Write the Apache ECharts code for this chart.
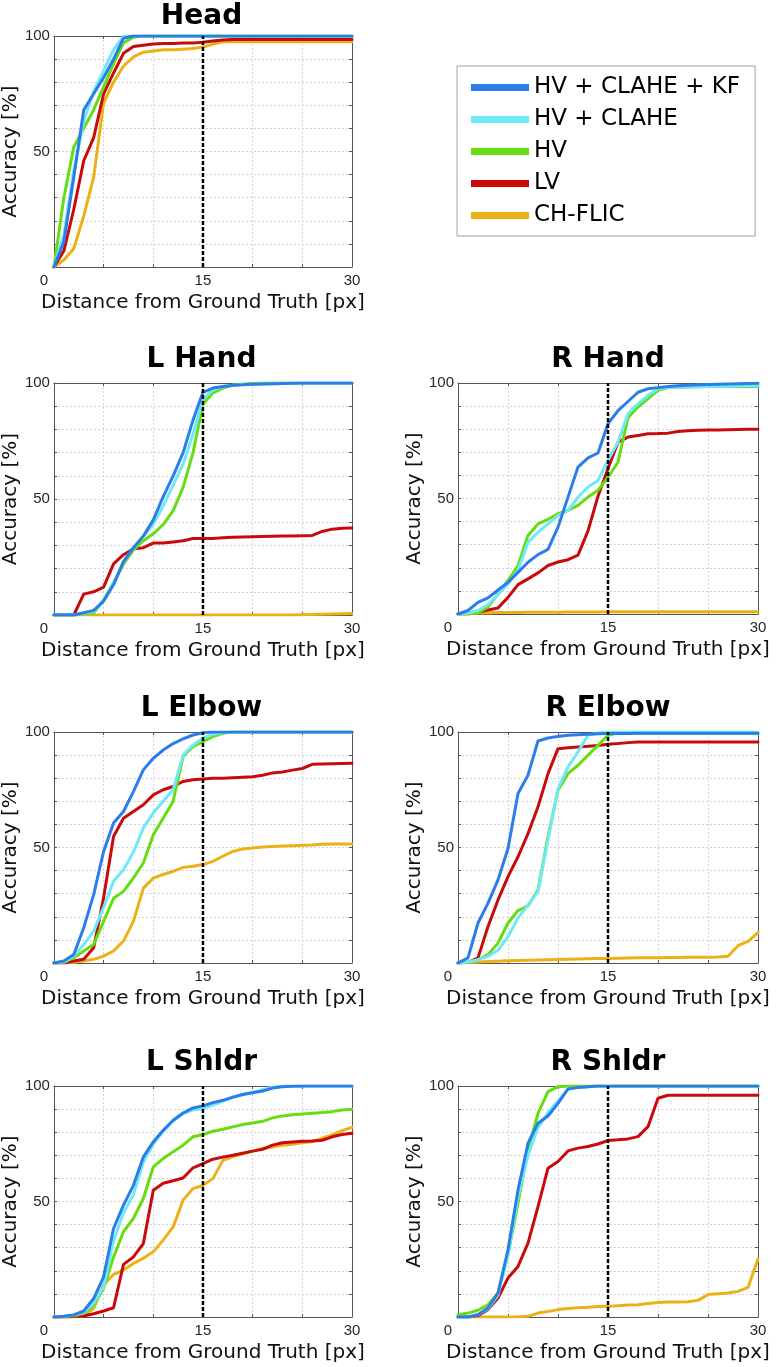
<!DOCTYPE html>
<html><head><meta charset="utf-8">
<script src="https://cdn.jsdelivr.net/npm/echarts/dist/echarts.min.js"></script>
<style>html,body{margin:0;padding:0;background:#fff}#c{width:776px;height:1367px}</style>
</head><body><div id="c"></div><script>
const SERIES_NAMES = ['HV + CLAHE + KF', 'HV + CLAHE', 'HV', 'LV', 'CH-FLIC'];
const PANEL_TITLES = ['Head', 'L Hand', 'R Hand', 'L Elbow', 'R Elbow', 'L Shldr', 'R Shldr'];
const X_TICK_LABELS = [0, 15, 30];
const Y_TICK_LABELS = [50, 100];
const THRESHOLD = 15;
const X_NAME = 'Distance from Ground Truth [px]';
const Y_NAME = 'Accuracy [%]';
const DIST = [0,1,2,3,4,5,6,7,8,9,10,11,12,13,14,15,16,17,18,19,20,21,22,23,24,25,26,27,28,29,30];

// Head
const HEAD_KF    = [0,11,39,68,75,82,90,99,100,100,100,100,100,100,100,100,100,100,100,100,100,100,100,100,100,100,100,100,100,100,100];
const HEAD_CLAHE = [0,14,42,63,76,85,94,100,100,100,100,100,100,100,100,100,100,100,100,100,100,100,100,100,100,100,100,100,100,100,100];
const HEAD_HV    = [0,30,52,60,68,78,88,97,99.5,100,100,100,100,100,100,100,100,100,100,100,100,100,100,100,100,100,100,100,100,100,100];
const HEAD_LV    = [0,7,25,46,56,75,84,92.5,95.5,96,96.5,96.7,96.8,97,97,97.3,97.8,98.3,98.5,98.5,98.5,98.5,98.5,98.5,98.5,98.5,98.5,98.5,98.5,98.5,98.5];
const HEAD_FLIC  = [0,3,8,22,39,71,80,87,91,93,93.5,94,94,94.3,94.6,95.2,96.5,97.5,97.5,97.5,97.5,97.5,97.5,97.5,97.5,97.5,97.5,97.5,97.5,97.5,97.5];
// L Hand
const LHAND_KF    = [0,0,0,1,2,6,13,23,29,34,41,51,60,70,84,96,97.8,98.5,99,99.2,99.5,99.6,99.7,99.8,99.9,100,100,100,100,100,100];
const LHAND_CLAHE = [0,0,0,0.7,1.5,6,13.5,23,29,34,39,47,56,65,78,93,97,98.5,99,99.3,99.5,99.6,99.7,99.8,99.9,100,100,100,100,100,100];
const LHAND_HV    = [0,0,0,0.5,0.8,6.5,14,22,28,32,35,39,45,55,70,91,95.7,97.8,99,99.5,99.8,100,100,100,100,100,100,100,100,100,100];
const LHAND_LV    = [0,0,0,9,10,12,22,26,28.5,29,31,31,31.5,32,33,33,33,33.3,33.5,33.6,33.7,33.8,33.9,34,34,34.2,34.3,36,37,37.4,37.5];
const LHAND_FLIC  = [0,0,0,0,0,0,0,0,0,0,0,0,0,0,0,0,0,0,0,0,0,0,0,0,0,0.1,0.2,0.3,0.4,0.5,0.6];
// R Hand
const RHAND_KF    = [0,1.5,5,7,10.4,13.7,18,22.4,25.7,28,37.6,50.6,63.6,67.6,69.7,82.4,88,92,96,97.5,98,98.5,98.8,99,99.2,99.4,99.5,99.6,99.7,99.8,99.9];
const RHAND_CLAHE = [0,0.5,1.5,4,8.4,13,19,31,35.4,39,42.6,44.8,50.6,55,57.8,66.5,74.4,86.7,91,94.7,97.5,98,98.2,98.3,98.4,98.5,98.5,98.6,98.7,98.8,98.8];
const RHAND_HV    = [0,0,0.5,3,8.7,14.5,21,34,39,41,43.4,44.8,47,50.6,53.5,59.2,65.7,85,89.6,93.2,96.8,98,98.2,98.3,98.4,98.5,98.5,98.5,98.5,98.5,98.5];
const RHAND_LV    = [0,0,0.7,1.7,2.6,7.2,12.7,15.2,17.8,21,22.5,23.5,25.5,36,51,63,74.4,76.6,77.3,78,78.1,78.3,79,79.3,79.5,79.6,79.7,79.8,79.9,80,80];
const RHAND_FLIC  = [0,0.2,0.4,0.5,0.6,0.7,0.7,0.8,0.8,0.8,0.8,0.9,0.9,0.9,0.9,1,1,1,1,1,1,1,1,1,1,1,1,1,1,1,1];
// L Elbow
const LELB_KF    = [0,0.9,3.7,15.3,29.6,48.3,60.6,65.6,74.2,83.6,88.6,92.2,95,97,98.7,99.7,100,100,100,100,100,100,100,100,100,100,100,100,100,100,100];
const LELB_CLAHE = [0,0.5,3,8,13.8,24,35.4,40.4,48,58.4,65,70,75,90,94.4,97.3,99,99.8,100,100,100,100,100,100,100,100,100,100,100,100,100];
const LELB_HV    = [0,0.3,2.3,5.2,8,18,28,31,36.8,43.3,55.5,62.7,70,89.4,93.7,95.8,98,99.4,100,100,100,100,100,100,100,100,100,100,100,100,100];
const LELB_LV    = [0,0,0.9,1.6,6.6,28.2,54.8,62.7,65.6,68.5,72.8,75,76.4,78.6,79.3,79.7,80,80,80.2,80.4,80.6,81.3,82.3,82.7,83.5,84.2,86,86.2,86.3,86.4,86.5];
const LELB_FLIC  = [0,0,0.3,0.9,1.6,3,5.2,9.5,18,32.4,36.8,38.3,39.7,41.4,41.9,42.6,44,46.2,48.3,49.4,49.8,50.2,50.4,50.6,50.8,51,51.1,51.4,51.5,51.5,51.5];
// R Elbow
const RELB_KF    = [0,2.2,17.3,25.9,36,49.6,73.4,81.3,96.1,97.4,98.1,98.6,98.8,99,99.2,99.3,99.4,99.4,99.5,99.5,99.5,99.5,99.5,99.5,99.5,99.5,99.5,99.5,99.5,99.5,99.5];
const RELB_CLAHE = [0,0.4,1.4,2.9,5.5,11.5,19.4,25.2,31,53.2,75.5,84.9,91.4,98.6,99.6,100,100,100,100,100,100,100,100,100,100,100,100,100,100,100,100];
const RELB_HV    = [0,0.3,1.4,3.6,8.6,17.3,22.7,24.7,31.7,54.7,74.8,82,85.6,90,94.2,98.6,99.5,99.5,99.5,99.5,99.5,99.5,99.5,99.5,99.5,99.5,99.5,99.5,99.5,99.5,99.5];
const RELB_LV    = [0,0.3,2.2,15.8,27.3,37.4,46,56,67.6,82,92.8,93.2,93.5,93.8,94.2,94.7,95,95.4,95.7,95.7,95.7,95.7,95.7,95.7,95.7,95.7,95.7,95.7,95.7,95.7,95.7];
const RELB_FLIC  = [0,0.2,0.4,0.6,0.8,1,1.1,1.2,1.3,1.4,1.5,1.6,1.7,1.8,1.9,2,2.1,2.2,2.3,2.3,2.3,2.4,2.4,2.5,2.5,2.5,2.6,2.9,7.5,9.4,13.2];
// L Shldr
const LSH_KF    = [0,0.3,0.9,2.6,8,17.4,38.3,48.4,57,69.3,75.8,80.8,85.2,88.3,90.5,91.4,92.8,93.8,95.2,96.3,97.1,97.8,99.1,99.7,99.9,100,100,100,100,100,100];
const LSH_CLAHE = [0,0.3,0.9,2,6,13,33,45,53,67,75,80.5,85,88,89.7,90.2,91.7,93.5,95,96.3,97.2,98.4,99.5,100,100,100,100,100,100,100,100];
const LSH_HV    = [0,0.2,0.5,1.6,5.2,12.4,26,36.9,42.7,51.3,65,68.6,71.5,74.4,78,79,80.4,81.3,82.3,83.3,84,84.7,86.2,87,87.6,87.9,88.2,88.5,88.9,89.6,89.9];
const LSH_LV    = [0,0,0.2,0.4,1.4,2.6,4,22.8,26,31.8,54.9,57.9,59,60.2,64.6,66.4,68.3,69.2,70,70.9,71.8,72.6,74.4,75.4,75.8,76.1,76.2,76.5,78,79,79.5];
const LSH_FLIC  = [0,0,0,0.6,3.7,14,18.4,20.3,23.2,25.4,28.2,33.3,39,50.6,55.6,57,59.9,67.8,69.3,70.7,71.8,72.9,73.6,74.4,74.8,75.4,75.9,77.4,78.8,80.7,82.1];
// R Shldr
const RSH_KF    = [0,0,1,3.9,10.4,29.1,55,75.2,83.9,87,92.5,98.7,99.4,99.7,100,100,100,100,100,100,100,100,100,100,100,100,100,100,100,100,100];
const RSH_CLAHE = [0,0,1,3.5,9.5,27,52,70,82,88.5,93.5,98.7,99.4,99.7,100,100,100,100,100,100,100,100,100,100,100,100,100,100,100,100,100];
const RSH_HV    = [1,1.7,2.9,5.3,10.4,27,49.3,72.3,88.2,97.6,99.7,100,100,100,100,100,100,100,100,100,100,100,100,100,100,100,100,100,100,100,100];
const RSH_LV    = [0,0,0.6,3.2,8.2,16.9,21.9,32,47.8,64.4,67.3,71.9,73.1,73.8,74.9,76.4,76.7,77.1,78.1,82.4,94.7,96,96,96,96,96,96,96,96,96,96];
const RSH_FLIC  = [0,0,0,0,0,0,0.1,0.3,1.7,2.4,3.2,3.7,4,4.2,4.5,4.6,4.9,5.2,5.3,5.8,6.3,6.5,6.5,6.6,7.2,9.7,10.1,10.4,11.1,12.8,25.1];

const PANEL_DATA = [
  [HEAD_KF, HEAD_CLAHE, HEAD_HV, HEAD_LV, HEAD_FLIC],
  [LHAND_KF, LHAND_CLAHE, LHAND_HV, LHAND_LV, LHAND_FLIC],
  [RHAND_KF, RHAND_CLAHE, RHAND_HV, RHAND_LV, RHAND_FLIC],
  [LELB_KF, LELB_CLAHE, LELB_HV, LELB_LV, LELB_FLIC],
  [RELB_KF, RELB_CLAHE, RELB_HV, RELB_LV, RELB_FLIC],
  [LSH_KF, LSH_CLAHE, LSH_HV, LSH_LV, LSH_FLIC],
  [RSH_KF, RSH_CLAHE, RSH_HV, RSH_LV, RSH_FLIC]
];

// styling / layout
const COLORS = ['#2b7de9', '#6fe9f7', '#66dd11', '#c80a0a', '#ebb116'];
const BOXES = [
  {left: 51, top: 36, width: 301, height: 231, titleTop: 3},
  {left: 51, top: 383, width: 301, height: 232, titleTop: 346},
  {left: 458, top: 383, width: 300, height: 231, titleTop: 346},
  {left: 51, top: 732, width: 301, height: 231, titleTop: 695},
  {left: 458, top: 732, width: 300, height: 231, titleTop: 695},
  {left: 51, top: 1086, width: 301, height: 231, titleTop: 1049},
  {left: 458, top: 1086, width: 300, height: 231, titleTop: 1049}
];
const AXIS_COLOR = '#555';
const GRID_LINE = {color: '#d4d4d4', width: 1, type: [2, 2]};
const TICK_FONT = {fontFamily: 'Liberation Sans', fontSize: 15, color: '#262626'};
const NAME_FONT = {fontFamily: 'DejaVu Sans', fontSize: 20, color: '#111'};

const grid = [], xAxis = [], yAxis = [], series = [], title = [];
BOXES.forEach((b, i) => {
  grid.push({left: b.left, top: b.top, width: b.width, height: b.height, containLabel: false});
  title.push({
    text: PANEL_TITLES[i], left: b.left + b.width / 2, top: b.titleTop, textAlign: 'center', padding: 0,
    textStyle: {fontFamily: 'DejaVu Sans', fontWeight: 'bold', fontSize: 28, color: '#000'}
  });
  xAxis.push({
    gridIndex: i, type: 'value', min: 0, max: 30, interval: 5, position: 'bottom',
    name: X_NAME, nameLocation: 'middle', nameGap: 26, nameTextStyle: NAME_FONT,
    axisLine: {show: true, onZero: false, lineStyle: {color: AXIS_COLOR, width: 1}},
    axisTick: {show: true, inside: true, length: 3, lineStyle: {color: AXIS_COLOR}},
    splitLine: {show: true, lineStyle: GRID_LINE},
    axisLabel: Object.assign({}, TICK_FONT, {
      margin: 6,
      formatter: v => v === X_TICK_LABELS[0] ? '{z|' + v + '}' : (X_TICK_LABELS.includes(v) ? String(v) : ''),
      rich: {z: Object.assign({}, TICK_FONT, {padding: [0, 20, 0, 0]})}
    })
  });
  xAxis.push({
    gridIndex: i, type: 'value', min: 0, max: 30, interval: 5, position: 'top',
    axisLine: {show: true, onZero: false, lineStyle: {color: AXIS_COLOR, width: 1}},
    axisTick: {show: true, inside: true, length: 3, lineStyle: {color: AXIS_COLOR}},
    splitLine: {show: false}, axisLabel: {show: false}
  });
  yAxis.push({
    gridIndex: i, type: 'value', min: 0, max: 100, interval: 10, position: 'left',
    name: Y_NAME, nameLocation: 'middle', nameGap: 29, nameTextStyle: NAME_FONT,
    axisLine: {show: true, onZero: false, lineStyle: {color: AXIS_COLOR, width: 1}},
    axisTick: {show: true, inside: true, length: 3, lineStyle: {color: AXIS_COLOR}},
    splitLine: {show: true, lineStyle: GRID_LINE},
    axisLabel: Object.assign({}, TICK_FONT, {
      margin: 4,
      formatter: v => Y_TICK_LABELS.includes(v) ? String(v) : ''
    })
  });
  yAxis.push({
    gridIndex: i, type: 'value', min: 0, max: 100, interval: 10, position: 'right',
    axisLine: {show: true, onZero: false, lineStyle: {color: AXIS_COLOR, width: 1}},
    axisTick: {show: true, inside: true, length: 3, lineStyle: {color: AXIS_COLOR}},
    splitLine: {show: false}, axisLabel: {show: false}
  });
  // draw CH-FLIC first, HV + CLAHE + KF last (on top)
  for (let s = SERIES_NAMES.length - 1; s >= 0; s--) {
    series.push({
      type: 'line', name: SERIES_NAMES[s], xAxisIndex: 2 * i, yAxisIndex: 2 * i,
      data: DIST.map((d, k) => [d, PANEL_DATA[i][s][k]]),
      showSymbol: false, symbol: 'none', smooth: false, clip: true,
      color: COLORS[s],
      lineStyle: {color: COLORS[s], width: 3, join: 'round', cap: 'round'},
      z: 2, animation: false
    });
  }
  series.push({
    type: 'line', name: 'threshold', xAxisIndex: 2 * i, yAxisIndex: 2 * i,
    data: [[THRESHOLD, 0], [THRESHOLD, 100]],
    showSymbol: false, symbol: 'none', silent: true,
    lineStyle: {color: '#000', width: 2.5, type: [4, 2]}, z: 4, animation: false
  });
});

const chart = echarts.init(document.getElementById('c'), null, {renderer: 'canvas'});
chart.setOption({
  backgroundColor: '#fff',
  animation: false,
  title: title,
  grid: grid, xAxis: xAxis, yAxis: yAxis, series: series,
  legend: {
    data: SERIES_NAMES.map((n, i) => ({name: n, icon: 'rect', itemStyle: {color: COLORS[i]}})),
    orient: 'vertical', left: 457, top: 66,
    padding: [10, 15, 9, 14], itemWidth: 58, itemHeight: 7, itemGap: 9,
    borderColor: '#a0a0a0', borderWidth: 1, backgroundColor: '#fff',
    selectedMode: false,
    textStyle: {fontFamily: 'DejaVu Sans', fontSize: 23, color: '#000'}
  }
});
</script></body></html>
